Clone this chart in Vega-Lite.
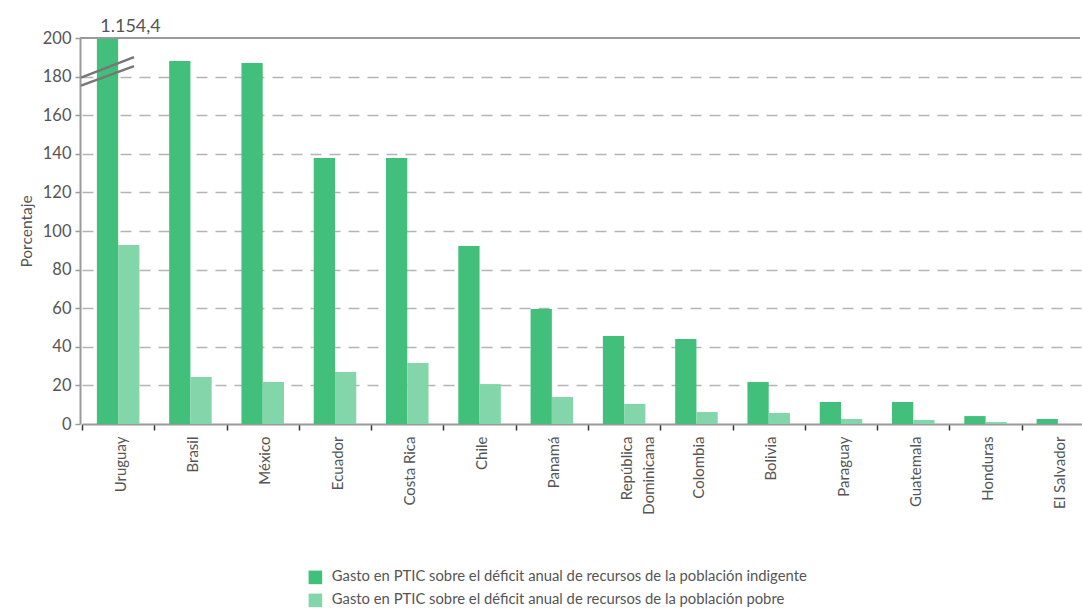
{
  "$schema": "https://vega.github.io/schema/vega-lite/v6.json",
  "autosize": "none",
  "width": 1000,
  "height": 386,
  "padding": {"left": 80, "top": 38, "right": 2, "bottom": 185},
  "background": "white",
  "config": {
    "font": "Lato",
    "view": {"stroke": null},
    "axis": {"labelFont": "Lato", "titleFont": "Lato", "labelColor": "#555555", "titleColor": "#555555"},
    "legend": {"labelFont": "Lato"}
  },
  "data": {
    "values": [
      {"pais": "Uruguay", "serie": "Gasto en PTIC sobre el déficit anual de recursos de la población indigente", "valor": 1154.4},
      {"pais": "Uruguay", "serie": "Gasto en PTIC sobre el déficit anual de recursos de la población pobre", "valor": 92.7},
      {"pais": "Brasil", "serie": "Gasto en PTIC sobre el déficit anual de recursos de la población indigente", "valor": 188.1},
      {"pais": "Brasil", "serie": "Gasto en PTIC sobre el déficit anual de recursos de la población pobre", "valor": 24.4},
      {"pais": "México", "serie": "Gasto en PTIC sobre el déficit anual de recursos de la población indigente", "valor": 187.0},
      {"pais": "México", "serie": "Gasto en PTIC sobre el déficit anual de recursos de la población pobre", "valor": 21.8},
      {"pais": "Ecuador", "serie": "Gasto en PTIC sobre el déficit anual de recursos de la población indigente", "valor": 137.8},
      {"pais": "Ecuador", "serie": "Gasto en PTIC sobre el déficit anual de recursos de la población pobre", "valor": 27.0},
      {"pais": "Costa Rica", "serie": "Gasto en PTIC sobre el déficit anual de recursos de la población indigente", "valor": 137.8},
      {"pais": "Costa Rica", "serie": "Gasto en PTIC sobre el déficit anual de recursos de la población pobre", "valor": 31.6},
      {"pais": "Chile", "serie": "Gasto en PTIC sobre el déficit anual de recursos de la población indigente", "valor": 92.2},
      {"pais": "Chile", "serie": "Gasto en PTIC sobre el déficit anual de recursos de la población pobre", "valor": 20.7},
      {"pais": "Panamá", "serie": "Gasto en PTIC sobre el déficit anual de recursos de la población indigente", "valor": 59.6},
      {"pais": "Panamá", "serie": "Gasto en PTIC sobre el déficit anual de recursos de la población pobre", "valor": 14.0},
      {"pais": "República Dominicana", "serie": "Gasto en PTIC sobre el déficit anual de recursos de la población indigente", "valor": 45.6},
      {"pais": "República Dominicana", "serie": "Gasto en PTIC sobre el déficit anual de recursos de la población pobre", "valor": 10.4},
      {"pais": "Colombia", "serie": "Gasto en PTIC sobre el déficit anual de recursos de la población indigente", "valor": 44.0},
      {"pais": "Colombia", "serie": "Gasto en PTIC sobre el déficit anual de recursos de la población pobre", "valor": 6.2},
      {"pais": "Bolivia", "serie": "Gasto en PTIC sobre el déficit anual de recursos de la población indigente", "valor": 21.8},
      {"pais": "Bolivia", "serie": "Gasto en PTIC sobre el déficit anual de recursos de la población pobre", "valor": 5.7},
      {"pais": "Paraguay", "serie": "Gasto en PTIC sobre el déficit anual de recursos de la población indigente", "valor": 11.4},
      {"pais": "Paraguay", "serie": "Gasto en PTIC sobre el déficit anual de recursos de la población pobre", "valor": 2.6},
      {"pais": "Guatemala", "serie": "Gasto en PTIC sobre el déficit anual de recursos de la población indigente", "valor": 11.4},
      {"pais": "Guatemala", "serie": "Gasto en PTIC sobre el déficit anual de recursos de la población pobre", "valor": 2.1},
      {"pais": "Honduras", "serie": "Gasto en PTIC sobre el déficit anual de recursos de la población indigente", "valor": 4.1},
      {"pais": "Honduras", "serie": "Gasto en PTIC sobre el déficit anual de recursos de la población pobre", "valor": 1.0},
      {"pais": "El Salvador", "serie": "Gasto en PTIC sobre el déficit anual de recursos de la población indigente", "valor": 2.6},
      {"pais": "El Salvador", "serie": "Gasto en PTIC sobre el déficit anual de recursos de la población pobre", "valor": 0}
    ]
  },
  "layer": [
    {
      "mark": {"type": "bar", "clip": true},
      "encoding": {
        "x": {
          "field": "pais", "type": "nominal", "sort": null,
          "scale": {
            "domain": ["Uruguay", "Brasil", "México", "Ecuador", "Costa Rica", "Chile", "Panamá", "República Dominicana", "Colombia", "Bolivia", "Paraguay", "Guatemala", "Honduras", "El Salvador"],
            "range": [2, 1014], "paddingInner": 0, "paddingOuter": 0
          },
          "axis": {
            "title": null, "labelAngle": -90, "labelAlign": "right", "labelBaseline": "middle",
            "labelFontSize": 15, "labelPadding": 6, "labelOffset": 2, "labelLineHeight": 22,
            "labelExpr": "datum.value == 'República Dominicana' ? ['República', 'Dominicana'] : datum.value",
            "tickBand": "extent", "tickColor": "#333333", "tickWidth": 1.5, "tickSize": 6, "tickOffset": -2,
            "domainColor": "#9a9a9a", "domainWidth": 2, "grid": false
          }
        },
        "xOffset": {
          "field": "serie", "type": "nominal", "sort": null,
          "scale": {"paddingInner": 0, "paddingOuter": 0.7}
        },
        "y": {
          "field": "valor", "type": "quantitative",
          "scale": {"domain": [0, 200], "nice": false},
          "axis": {
            "title": "Porcentaje", "titleFontSize": 15.5, "titleFontWeight": "normal", "titlePadding": 8,
            "values": [0, 20, 40, 60, 80, 100, 120, 140, 160, 180, 200],
            "tickCount": 20,
            "labelOverlap": false,
            "labelFontSize": 16.5, "labelPadding": 4,
            "tickColor": "#9a9a9a", "tickSize": 5, "tickWidth": 1.5,
            "domainColor": "#9a9a9a", "domainWidth": 2,
            "grid": true, "gridColor": "#b4b4b4", "gridWidth": 1.5, "gridDash": [11, 8],
            "gridOpacity": {"condition": {"test": "datum.value === 0 || datum.value === 200", "value": 0}, "value": 1}
          }
        },
        "color": {
          "field": "serie", "type": "nominal", "sort": null,
          "scale": {"range": ["#41bf7b", "#83d6a9"]},
          "legend": {
            "title": null, "orient": "none", "legendX": 228, "legendY": 532, "direction": "vertical",
            "symbolType": "square", "symbolSize": 185, "symbolStrokeWidth": 0, "symbolOpacity": 1,
            "labelFontSize": 14.8, "labelColor": "#555555", "labelLimit": 800, "labelOffset": 9,
            "rowPadding": 7, "padding": 0
          }
        }
      }
    },
    {
      "mark": {"type": "rule", "color": "#9a9a9a", "strokeWidth": 2},
      "encoding": {"y": {"datum": 200, "type": "quantitative"}}
    },
    {
      "data": {"values": [{"pais": "Uruguay", "serie": "Gasto en PTIC sobre el déficit anual de recursos de la población indigente", "etiqueta": "1.154,4"}]},
      "mark": {"type": "text", "fontSize": 18, "color": "#555555", "align": "center", "baseline": "alphabetic", "dx": 23, "dy": -6, "font": "Lato"},
      "encoding": {
        "x": {"field": "pais", "type": "nominal", "sort": null},
        "xOffset": {"field": "serie", "type": "nominal", "sort": null},
        "y": {"datum": 200, "type": "quantitative"},
        "text": {"field": "etiqueta"}
      }
    },
    {
      "data": {"values": [{"pais": "Uruguay", "serie": "Gasto en PTIC sobre el déficit anual de recursos de la población indigente"}]},
      "mark": {
        "type": "point", "filled": false, "stroke": "#777777", "strokeWidth": 2.5, "opacity": 1, "size": 2809,
        "shape": "M -1 0.226 L 1 -0.547 M -1 0.528 L 1 -0.208"
      },
      "encoding": {
        "x": {"field": "pais", "type": "nominal", "sort": null},
        "xOffset": {"field": "serie", "type": "nominal", "sort": null},
        "y": {"datum": 182.6, "type": "quantitative"}
      }
    }
  ]
}
